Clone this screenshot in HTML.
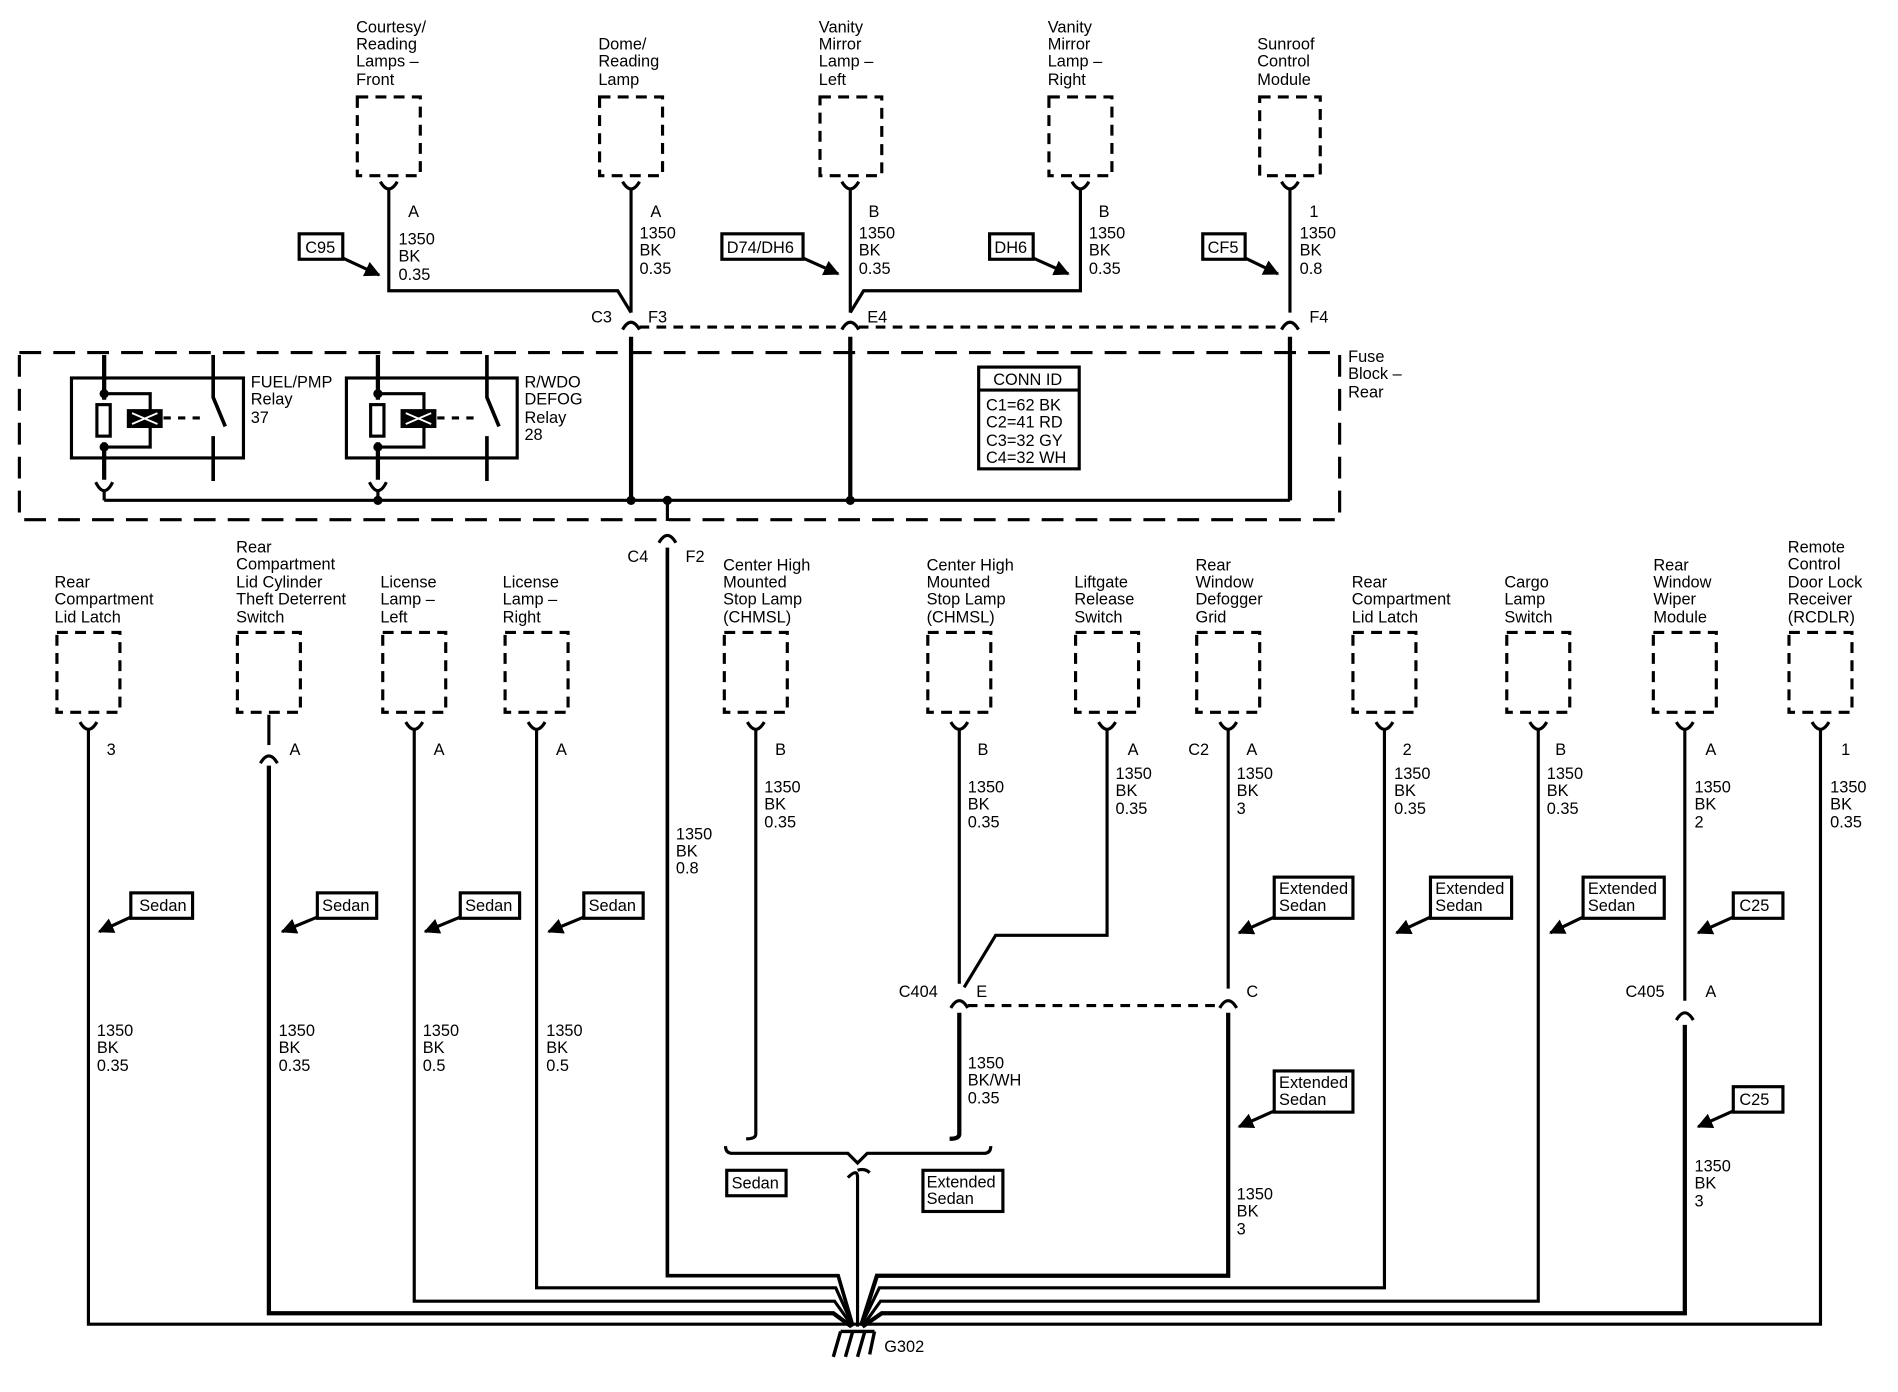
<!DOCTYPE html>
<html><head><meta charset="utf-8"><style>
html,body{margin:0;padding:0;background:#fff}
svg{display:block}
text{font-family:"Liberation Sans",Arial,sans-serif;font-size:13.5px;fill:#000}
</style></head><body>
<svg width="1898" height="1392" viewBox="0 0 1567 1149" preserveAspectRatio="none" xmlns="http://www.w3.org/2000/svg">
<defs>
<marker id="ar" viewBox="0 0 10 10" refX="9" refY="5" markerWidth="5" markerHeight="5" orient="auto"><path d="M0,0 L10,5 L0,10 z" fill="#000"/></marker>
</defs>
<g fill="none" stroke="#000" stroke-width="2.6">
<g stroke-dasharray="9,6">
<rect x="295" y="80" width="52" height="65"/>
<rect x="495" y="80" width="52" height="65"/>
<rect x="677" y="80" width="51" height="65"/>
<rect x="866" y="80" width="52" height="65"/>
<rect x="1040" y="80" width="50" height="65"/>
</g>
<path d="M314,150 q7,12 14,0"/><path d="M514,150 q7,12 14,0"/><path d="M695,150 q7,12 14,0"/><path d="M885,150 q7,12 14,0"/><path d="M1058,150 q7,12 14,0"/>
<path d="M321,156 V240 H510 L521,258"/>
<path d="M892,156 V240 H713 L702,258"/>
<path d="M521,156 V258"/><path d="M702,156 V258"/><path d="M1065,156 V258"/>
<path d="M514,272 q7,-12 14,0"/><path d="M695,272 q7,-12 14,0"/><path d="M1058,272 q7,-12 14,0"/>
<path d="M528,270 H695 M709,270 H1058" stroke-dasharray="8,6"/>
<path d="M521,278 V413 M702,278 V413 M1065,278 V413" stroke-width="3.5"/>
<rect x="16" y="291" width="1090" height="138" stroke-dasharray="18,10"/>
<path d="M86,413 H1065"/>
<rect x="59" y="312" width="142" height="66"/>
<path d="M86,293 V330 M86,365 V396" stroke-width="3.5"/>
<rect x="80" y="334" width="11" height="26"/>
<path d="M86,325 H124 V338 M86,369 H124 V352"/>
<rect x="106" y="339" width="27" height="13" fill="#000"/>
<path d="M109,341 l21,9 M109,350 l21,-9" stroke="#fff" stroke-width="1.5"/>
<path d="M135,345 H168" stroke-dasharray="6,6"/>
<path d="M176,293 V328 L186,352 M176,360 V397" stroke-width="3"/>
<path d="M79,398 q7,14 14,0 M86,405 V413"/>
<circle cx="86" cy="325" r="2.5" fill="#000"/><circle cx="86" cy="369" r="2.5" fill="#000"/>
<rect x="286" y="312" width="141" height="66"/>
<path d="M312,293 V330 M312,365 V396" stroke-width="3.5"/>
<rect x="306" y="334" width="11" height="26"/>
<path d="M312,325 H350 V338 M312,369 H350 V352"/>
<rect x="332" y="339" width="27" height="13" fill="#000"/>
<path d="M335,341 l21,9 M335,350 l21,-9" stroke="#fff" stroke-width="1.5"/>
<path d="M361,345 H394" stroke-dasharray="6,6"/>
<path d="M402,293 V328 L412,352 M402,360 V397" stroke-width="3"/>
<path d="M305,398 q7,14 14,0 M312,405 V413"/>
<circle cx="312" cy="325" r="2.5" fill="#000"/><circle cx="312" cy="369" r="2.5" fill="#000"/><circle cx="312" cy="413" r="2.5" fill="#000"/>
<circle cx="521" cy="413" r="2.5" fill="#000"/><circle cx="702" cy="413" r="2.5" fill="#000"/><circle cx="551" cy="413" r="2.5" fill="#000"/>
<rect x="808" y="303" width="83" height="84"/><path d="M808,322 H891"/>
<path d="M551,413 V430"/>
<path d="M544,448 q7,-12 14,0"/>
<path d="M551,452 V1053 H692 L704,1094" stroke-width="3"/>
<g stroke-dasharray="9,6">
<rect x="47" y="522" width="52" height="66"/><rect x="196" y="522" width="52" height="66"/><rect x="316" y="522" width="52" height="66"/><rect x="417" y="522" width="52" height="66"/><rect x="598" y="522" width="52" height="66"/><rect x="766" y="522" width="52" height="66"/><rect x="888" y="522" width="52" height="66"/><rect x="988" y="522" width="52" height="66"/><rect x="1117" y="522" width="52" height="66"/><rect x="1244" y="522" width="52" height="66"/><rect x="1365" y="522" width="52" height="66"/><rect x="1477" y="522" width="52" height="66"/>
</g>
<path d="M66,596 q7,12 14,0 M335,596 q7,12 14,0 M436,596 q7,12 14,0 M617,596 q7,12 14,0 M785,596 q7,12 14,0 M907,596 q7,12 14,0 M1007,596 q7,12 14,0 M1136,596 q7,12 14,0 M1263,596 q7,12 14,0 M1384,596 q7,12 14,0 M1496,596 q7,12 14,0"/>
<path d="M222,590 V615"/><path d="M215,630 q7,-12 14,0"/>
<path d="M73,602 V1093 H1503 V602"/>
<path d="M222,632 V1084 H688 L703,1095" stroke-width="3.5"/>
<path d="M342,602 V1074 H689 L704,1095"/>
<path d="M443,602 V1063 H690 L704,1094"/>
<path d="M624,602 V936 q0,4 -8,4"/>
<path d="M792,602 V812 M914,602 V772 H822 L796,815"/>
<path d="M785,832 q7,-12 14,0"/>
<path d="M792,836 V936 q0,4 -8,4" stroke-width="3.5"/>
<path d="M1014,602 V816"/>
<path d="M1007,832 q7,-12 14,0"/>
<path d="M1014,836 V1053 H724 L711,1094" stroke-width="3.5"/>
<path d="M799,830 H1007" stroke-dasharray="8,6"/>
<path d="M1143,602 V1063 H726 L711,1094"/>
<path d="M1270,602 V1074 H727 L712,1095"/>
<path d="M1391,602 V826"/>
<path d="M1384,842 q7,-12 14,0"/>
<path d="M1391,846 V1084 H728 L712,1095" stroke-width="3.5"/>
<path d="M599,946 q0,6 6,6 H700 L708,960 L716,952 H812 q6,0 6,-6"/>
<path d="M700,972 q8,-8 8,0 V1095 M708,966 q6,-2 10,2" stroke-width="2.6"/>
<path d="M694,1099 H722 M694,1099 L688,1120 M704,1099 L698,1120 M714,1099 L708,1120 M722,1099 L718,1118" stroke-width="2.8"/>
<rect x="247" y="193" width="36" height="21"/><path d="M283,213 L313,227" marker-end="url(#ar)"/>
<rect x="596" y="193" width="67" height="21"/><path d="M663,213 L692,226" marker-end="url(#ar)"/>
<rect x="817" y="193" width="36" height="21"/><path d="M853,213 L882,226" marker-end="url(#ar)"/>
<rect x="993" y="193" width="35" height="21"/><path d="M1028,213 L1055,226" marker-end="url(#ar)"/>
<rect x="108" y="737" width="51" height="21"/><path d="M108,757 L82,769" marker-end="url(#ar)"/>
<rect x="262" y="737" width="49" height="21"/><path d="M262,757 L233,769" marker-end="url(#ar)"/>
<rect x="380" y="737" width="49" height="21"/><path d="M380,757 L351,769" marker-end="url(#ar)"/>
<rect x="482" y="737" width="49" height="21"/><path d="M482,757 L453,769" marker-end="url(#ar)"/>
<rect x="1052" y="724" width="65" height="34"/><path d="M1052,757 L1023,770" marker-end="url(#ar)"/>
<rect x="1181" y="724" width="67" height="34"/><path d="M1181,757 L1153,770" marker-end="url(#ar)"/>
<rect x="1307" y="724" width="67" height="34"/><path d="M1307,757 L1280,770" marker-end="url(#ar)"/>
<rect x="1431" y="737" width="41" height="21"/><path d="M1431,757 L1402,770" marker-end="url(#ar)"/>
<rect x="1052" y="884" width="65" height="34"/><path d="M1052,917 L1023,930" marker-end="url(#ar)"/>
<rect x="1431" y="897" width="41" height="21"/><path d="M1431,917 L1402,930" marker-end="url(#ar)"/>
<rect x="600" y="966" width="49" height="21"/>
<rect x="762" y="966" width="66" height="34"/>
</g>
<g>
<text x="294" y="27">Courtesy/</text><text x="294" y="41">Reading</text><text x="294" y="55">Lamps –</text><text x="294" y="70">Front</text>
<text x="494" y="41">Dome/</text><text x="494" y="55">Reading</text><text x="494" y="70">Lamp</text>
<text x="676" y="27">Vanity</text><text x="676" y="41">Mirror</text><text x="676" y="55">Lamp –</text><text x="676" y="70">Left</text>
<text x="865" y="27">Vanity</text><text x="865" y="41">Mirror</text><text x="865" y="55">Lamp –</text><text x="865" y="70">Right</text>
<text x="1038" y="41">Sunroof</text><text x="1038" y="55">Control</text><text x="1038" y="70">Module</text>
<text x="337" y="179">A</text><text x="329" y="202">1350</text><text x="329" y="216">BK</text><text x="329" y="231">0.35</text>
<text x="537" y="179">A</text><text x="528" y="197">1350</text><text x="528" y="211">BK</text><text x="528" y="226">0.35</text>
<text x="717" y="179">B</text><text x="709" y="197">1350</text><text x="709" y="211">BK</text><text x="709" y="226">0.35</text>
<text x="907" y="179">B</text><text x="899" y="197">1350</text><text x="899" y="211">BK</text><text x="899" y="226">0.35</text>
<text x="1081" y="179">1</text><text x="1073" y="197">1350</text><text x="1073" y="211">BK</text><text x="1073" y="226">0.8</text>
<text x="252" y="209">C95</text><text x="600" y="209">D74/DH6</text><text x="821" y="209">DH6</text><text x="997" y="209">CF5</text>
<text x="488" y="266">C3</text><text x="535" y="266">F3</text><text x="716" y="266">E4</text><text x="1081" y="266">F4</text>
<text x="1113" y="299">Fuse</text><text x="1113" y="313">Block –</text><text x="1113" y="328">Rear</text>
<text x="207" y="320">FUEL/PMP</text><text x="207" y="334">Relay</text><text x="207" y="349">37</text>
<text x="433" y="320">R/WDO</text><text x="433" y="334">DEFOG</text><text x="433" y="349">Relay</text><text x="433" y="363">28</text>
<text x="820" y="318">CONN ID</text><text x="814" y="339">C1=62 BK</text><text x="814" y="353">C2=41 RD</text><text x="814" y="368">C3=32 GY</text><text x="814" y="382">C4=32 WH</text>
<text x="518" y="464">C4</text><text x="566" y="464">F2</text>
<text x="45" y="485">Rear</text><text x="45" y="499">Compartment</text><text x="45" y="514">Lid Latch</text>
<text x="195" y="456">Rear</text><text x="195" y="470">Compartment</text><text x="195" y="485">Lid Cylinder</text><text x="195" y="499">Theft Deterrent</text><text x="195" y="514">Switch</text>
<text x="314" y="485">License</text><text x="314" y="499">Lamp –</text><text x="314" y="514">Left</text>
<text x="415" y="485">License</text><text x="415" y="499">Lamp –</text><text x="415" y="514">Right</text>
<text x="597" y="471">Center High</text><text x="597" y="485">Mounted</text><text x="597" y="499">Stop Lamp</text><text x="597" y="514">(CHMSL)</text>
<text x="765" y="471">Center High</text><text x="765" y="485">Mounted</text><text x="765" y="499">Stop Lamp</text><text x="765" y="514">(CHMSL)</text>
<text x="887" y="485">Liftgate</text><text x="887" y="499">Release</text><text x="887" y="514">Switch</text>
<text x="987" y="471">Rear</text><text x="987" y="485">Window</text><text x="987" y="499">Defogger</text><text x="987" y="514">Grid</text>
<text x="1116" y="485">Rear</text><text x="1116" y="499">Compartment</text><text x="1116" y="514">Lid Latch</text>
<text x="1242" y="485">Cargo</text><text x="1242" y="499">Lamp</text><text x="1242" y="514">Switch</text>
<text x="1365" y="471">Rear</text><text x="1365" y="485">Window</text><text x="1365" y="499">Wiper</text><text x="1365" y="514">Module</text>
<text x="1476" y="456">Remote</text><text x="1476" y="470">Control</text><text x="1476" y="485">Door Lock</text><text x="1476" y="499">Receiver</text><text x="1476" y="514">(RCDLR)</text>
<text x="88" y="623">3</text><text x="239" y="623">A</text><text x="358" y="623">A</text><text x="459" y="623">A</text><text x="640" y="623">B</text><text x="807" y="623">B</text><text x="931" y="623">A</text><text x="981" y="623">C2</text><text x="1029" y="623">A</text><text x="1158" y="623">2</text><text x="1284" y="623">B</text><text x="1408" y="623">A</text><text x="1520" y="623">1</text>
<text x="80" y="855">1350</text><text x="80" y="869">BK</text><text x="80" y="884">0.35</text>
<text x="230" y="855">1350</text><text x="230" y="869">BK</text><text x="230" y="884">0.35</text>
<text x="349" y="855">1350</text><text x="349" y="869">BK</text><text x="349" y="884">0.5</text>
<text x="451" y="855">1350</text><text x="451" y="869">BK</text><text x="451" y="884">0.5</text>
<text x="558" y="693">1350</text><text x="558" y="707">BK</text><text x="558" y="721">0.8</text>
<text x="631" y="654">1350</text><text x="631" y="668">BK</text><text x="631" y="683">0.35</text>
<text x="799" y="654">1350</text><text x="799" y="668">BK</text><text x="799" y="683">0.35</text>
<text x="921" y="643">1350</text><text x="921" y="657">BK</text><text x="921" y="672">0.35</text>
<text x="1021" y="643">1350</text><text x="1021" y="657">BK</text><text x="1021" y="672">3</text>
<text x="1151" y="643">1350</text><text x="1151" y="657">BK</text><text x="1151" y="672">0.35</text>
<text x="1277" y="643">1350</text><text x="1277" y="657">BK</text><text x="1277" y="672">0.35</text>
<text x="1399" y="654">1350</text><text x="1399" y="668">BK</text><text x="1399" y="683">2</text>
<text x="1511" y="654">1350</text><text x="1511" y="668">BK</text><text x="1511" y="683">0.35</text>
<text x="799" y="882">1350</text><text x="799" y="896">BK/WH</text><text x="799" y="911">0.35</text>
<text x="1021" y="990">1350</text><text x="1021" y="1004">BK</text><text x="1021" y="1019">3</text>
<text x="1399" y="967">1350</text><text x="1399" y="981">BK</text><text x="1399" y="996">3</text>
<text x="742" y="823">C404</text><text x="806" y="823">E</text><text x="1029" y="823">C</text><text x="1342" y="823">C405</text><text x="1408" y="823">A</text>
<text x="115" y="752">Sedan</text><text x="266" y="752">Sedan</text><text x="384" y="752">Sedan</text><text x="486" y="752">Sedan</text>
<text x="1056" y="738">Extended</text><text x="1056" y="752">Sedan</text>
<text x="1185" y="738">Extended</text><text x="1185" y="752">Sedan</text>
<text x="1311" y="738">Extended</text><text x="1311" y="752">Sedan</text>
<text x="1436" y="752">C25</text>
<text x="1056" y="898">Extended</text><text x="1056" y="912">Sedan</text>
<text x="1436" y="912">C25</text>
<text x="604" y="981">Sedan</text>
<text x="765" y="980">Extended</text><text x="765" y="994">Sedan</text>
<text x="730" y="1116">G302</text>
</g>
</svg>
</body></html>
